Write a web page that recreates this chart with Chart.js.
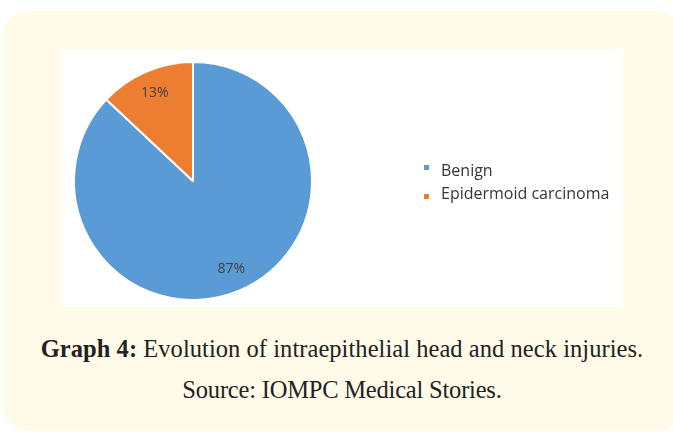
<!DOCTYPE html>
<html>
<head>
<meta charset="utf-8">
<script src="https://cdn.jsdelivr.net/npm/chart.js@4"></script>
<style>
  html, body { margin: 0; padding: 0; background: #ffffff; width: 673px; height: 433px; overflow: hidden; }
  .card {
    position: absolute; left: 3px; top: 11px; width: 680px; height: 420px;
    background: #fffbe8; border-radius: 26px;
  }
  .panel {
    position: absolute; left: 58px; top: 38px; width: 562px; height: 258px;
    background: #ffffff;
  }
  .caption {
    position: absolute; left: 0; width: 678px; text-align: center;
    font-family: "Liberation Serif", serif; font-size: 24.5px; color: #222;
  }
  .caption b { font-weight: bold; }
</style>
</head>
<body>
<div class="card">
  <div class="panel"><canvas id="pie" width="562" height="258"></canvas></div>
  <div class="caption" style="top:324px; letter-spacing:0.05px"><b>Graph 4:</b> Evolution of intraepithelial head and neck injuries.</div>
  <div class="caption" style="top:365px; letter-spacing:-0.2px">Source: IOMPC Medical Stories.</div>
</div>
<script>
/* ── Data ─────────────────────────────── */
const categories = ["Benign", "Epidermoid carcinoma"];
const shares     = [87, 13];
const sliceColors = ["#5b9bd5", "#ed7d31"];

/* ── Percent labels inside slices ─────── */
const sliceLabels = {
  id: "sliceLabels",
  afterDatasetsDraw(chart) {
    const ctx = chart.ctx;
    const meta = chart.getDatasetMeta(0);
    ctx.save();
    ctx.font = "14px 'Open Sans'";
    ctx.fillStyle = "#404040";
    ctx.textAlign = "center";
    ctx.textBaseline = "middle";
    meta.data.forEach((arc, i) => {
      const mid = (arc.startAngle + arc.endAngle) / 2;
      const r = arc.outerRadius * 0.81;
      ctx.fillText(shares[i] + "%", arc.x + Math.cos(mid) * r, arc.y + Math.sin(mid) * r);
    });
    ctx.restore();
  }
};

/* ── Legend drawn to the right ────────── */
const sideLegend = {
  id: "sideLegend",
  afterDraw(chart) {
    const ctx = chart.ctx;
    ctx.save();
    ctx.font = "16px 'Open Sans'";
    ctx.textBaseline = "alphabetic";
    const marks = [{ sq: 116, base: 127 }, { sq: 145, base: 150 }];
    categories.forEach((name, i) => {
      ctx.fillStyle = sliceColors[i];
      ctx.fillRect(363, marks[i].sq, 5, 5);
      ctx.fillStyle = "#363636";
      ctx.fillText(name, 380, marks[i].base);
    });
    ctx.restore();
  }
};

new Chart(document.getElementById("pie"), {
  type: "pie",
  data: {
    labels: categories,
    datasets: [{
      data: shares,
      backgroundColor: sliceColors,
      borderColor: "#ffffff",
      borderWidth: 2
    }]
  },
  options: {
    responsive: false,
    animation: false,
    layout: { padding: { left: 12, top: 11, right: 310, bottom: 5 } },
    plugins: {
      legend: { display: false },
      tooltip: { enabled: false }
    }
  },
  plugins: [sliceLabels, sideLegend]
});
</script>
</body>
</html>
